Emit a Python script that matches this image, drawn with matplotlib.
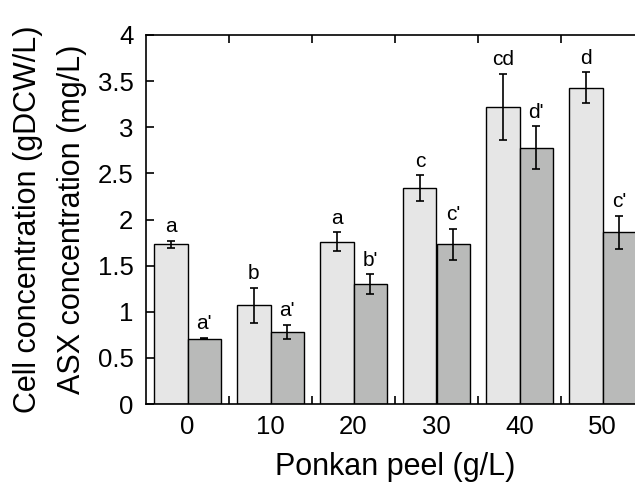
import matplotlib
matplotlib.use("Agg")
import matplotlib.pyplot as plt
import numpy as np

plt.rcParams["font.family"] = ["Liberation Sans", "DejaVu Sans"]

# data
peel = ["0", "10", "20", "30", "40", "50"]
cell = [1.73, 1.07, 1.76, 2.34, 3.22, 3.43]
cell_err = [0.04, 0.19, 0.10, 0.14, 0.36, 0.17]
asx = [0.71, 0.78, 1.30, 1.73, 2.78, 1.86]
asx_err = [0.01, 0.08, 0.11, 0.17, 0.23, 0.18]
cell_letters = ["a", "b", "a", "c", "cd", "d"]
asx_letters = ["a'", "a'", "b'", "c'", "d'", "c'"]

W, H = 635, 484
fig = plt.figure(figsize=(W / 100, H / 100), dpi=100)
# right spine sits just past the image edge, as in the reference
ax = fig.add_axes([146 / W, (H - 404) / H, (644 - 146) / W, (404 - 35) / H])

x = np.arange(len(peel))
bw = 0.4
ax.bar(x - bw / 2, cell, bw, color="#e6e6e6", edgecolor="black", linewidth=1.0, zorder=2)
ax.bar(x + bw / 2, asx, bw, color="#b9bab9", edgecolor="black", linewidth=1.0, zorder=2)
ax.errorbar(x - bw / 2, cell, yerr=cell_err, fmt="none", ecolor="black",
            elinewidth=1.2, capsize=3, capthick=1.2, zorder=3)
ax.errorbar(x + bw / 2, asx, yerr=asx_err, fmt="none", ecolor="black",
            elinewidth=1.2, capsize=3, capthick=1.2, zorder=3)

for xi, v, e, t in zip(x - bw / 2, cell, cell_err, cell_letters):
    ax.annotate(t, (xi, v + e), xytext=(0, 6), textcoords="offset points",
                ha="center", va="baseline", fontsize=15)
for xi, v, e, t in zip(x + bw / 2, asx, asx_err, asx_letters):
    ax.annotate(t, (xi, v + e), xytext=(0, 6), textcoords="offset points",
                ha="center", va="baseline", fontsize=15)

ax.set_xlim(-0.5, len(peel) - 0.5)
ax.set_ylim(0, 4)
ax.set_yticks(np.arange(0, 4.01, 0.5))
ax.set_yticklabels(["0", "0.5", "1", "1.5", "2", "2.5", "3", "3.5", "4"])
ax.set_xticks(x)
ax.set_xticklabels(peel)
ax.set_xticks(x[:-1] + 0.5, minor=True)

ax.tick_params(axis="x", which="major", length=0, pad=8, labelsize=18.5)
ax.tick_params(axis="x", which="minor", direction="in", length=6, width=1.2,
               top=True, bottom=True)
ax.tick_params(axis="y", which="major", direction="in", length=6, width=1.2,
               pad=9, labelsize=18.5)
for s in ax.spines.values():
    s.set_linewidth(1.2)

ax.set_xlabel("Ponkan peel (g/L)", fontsize=22, labelpad=9)
ax.set_ylabel("Cell concentration (gDCW/L)\nASX concentration (mg/L)",
              fontsize=22, linespacing=1.6, labelpad=8)

fig.savefig("out.png", dpi=100)
